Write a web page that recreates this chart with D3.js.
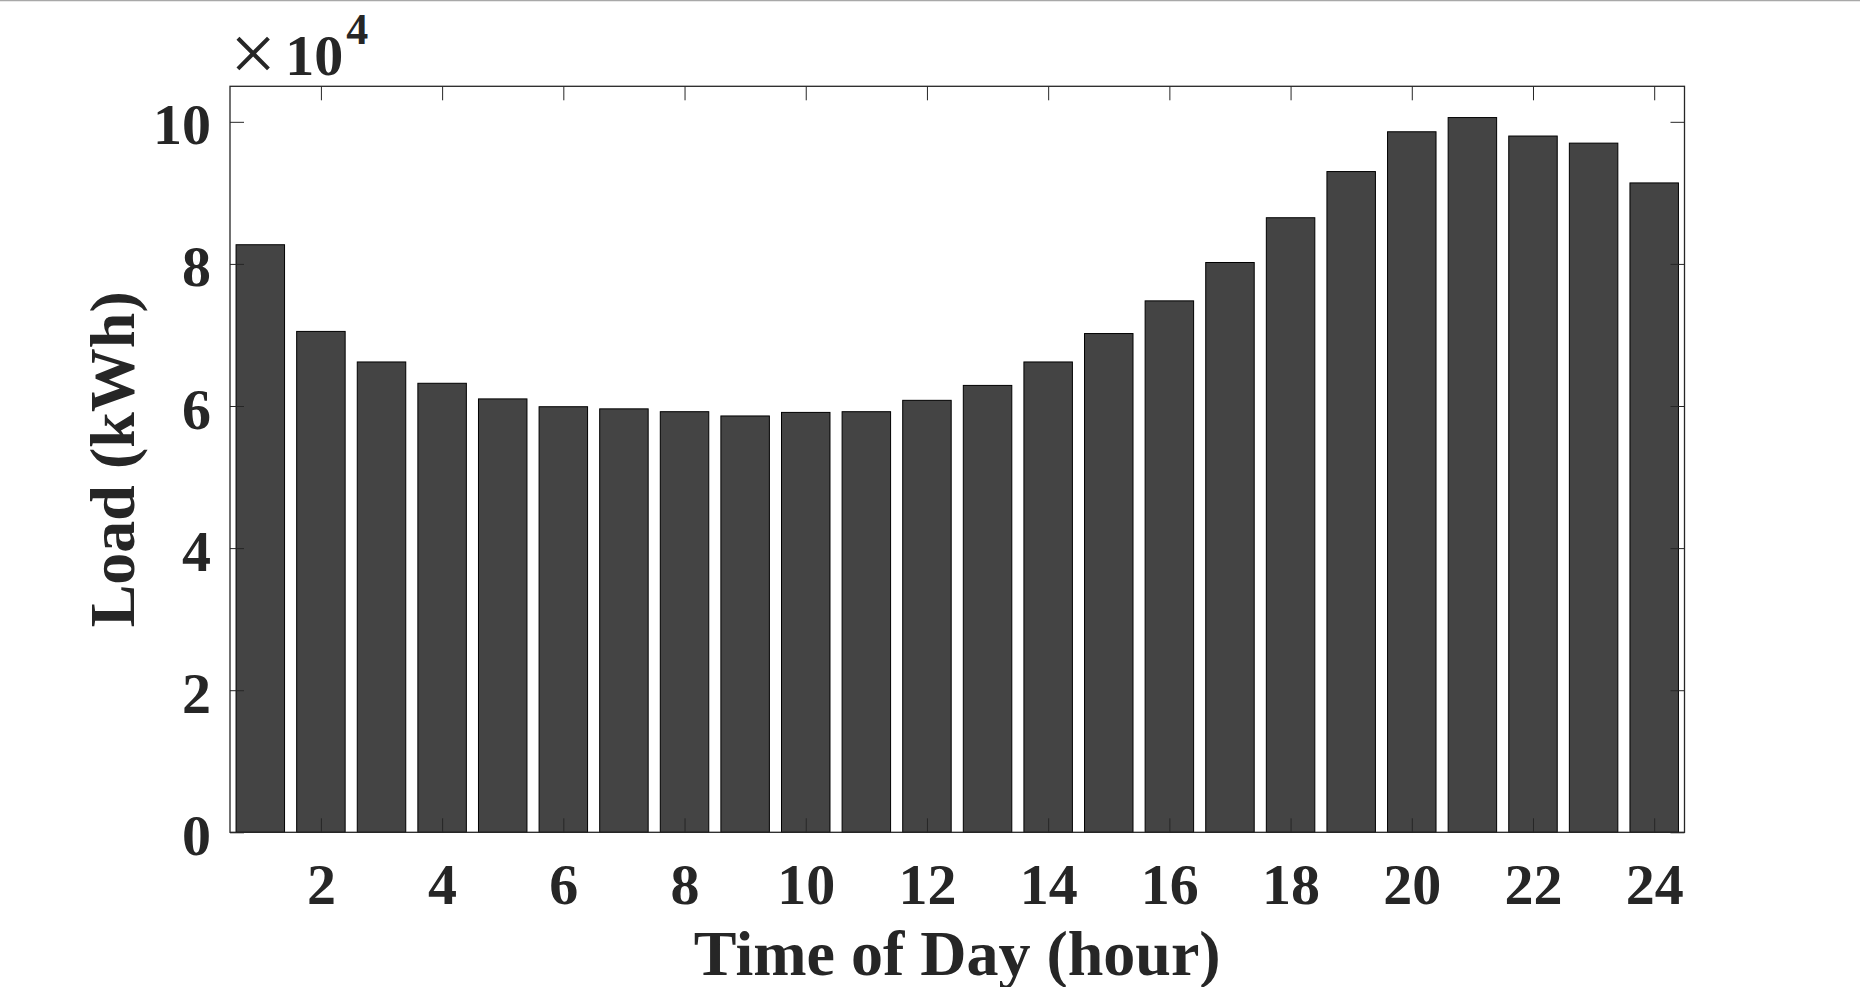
<!DOCTYPE html>
<html>
<head>
<meta charset="utf-8">
<script src="https://cdn.jsdelivr.net/npm/d3@7"></script>
<style>
  html, body { margin: 0; padding: 0; background: #ffffff; }
  svg { display: block; }
  text { font-family: "Liberation Serif", "Times New Roman", serif; fill: #262626; }
</style>
</head>
<body>
<script>
// ---- data ----
const hours = [1,2,3,4,5,6,7,8,9,10,11,12,13,14,15,16,17,18,19,20,21,22,23,24];
const load = [82700, 70500, 66200, 63200, 61000, 59900, 59600, 59200, 58600, 59100, 59200, 60800,
              62900, 66200, 70200, 74800, 80200, 86500, 93000, 98600, 100600, 98000, 97000, 91400];
const xTickValues = [2,4,6,8,10,12,14,16,18,20,22,24];
const yTickValues = [0, 20000, 40000, 60000, 80000, 100000];
const yTickLabels = ["0","2","4","6","8","10"];
const xLabel = "Time of Day (hour)";
const yLabel = "Load (kWh)";

// ---- layout ----
const W = 1860, H = 987;
const pLeft = 230, pRight = 1684.5, pTop = 86.3, pBottom = 832.3;
const ink = "#262626";

const svg = d3.select("body").append("svg").attr("width", W).attr("height", H);

// thin grey line at very top of the picture
svg.append("line").attr("x1", 0).attr("x2", W).attr("y1", 0.5).attr("y2", 0.5)
  .attr("stroke", "#a8a8a8").attr("stroke-width", 1.5);

const x = d3.scaleLinear().domain([0.5, 24.5]).range([pLeft, pRight]);
const y = d3.scaleLinear().domain([0, 105000]).range([pBottom, pTop]);
const barW = (x(1) - x(0)) * 0.8;

// bars
svg.append("g").selectAll("rect").data(hours).join("rect")
  .attr("x", (d) => x(d) - barW / 2)
  .attr("width", barW)
  .attr("y", (d, i) => y(load[i]))
  .attr("height", (d, i) => y(0) - y(load[i]))
  .attr("fill", "#444444")
  .attr("stroke", "#000000")
  .attr("stroke-width", 1);

const tickLen = 14;
function styleAxis(g) {
  g.select(".domain").remove();
  g.selectAll(".tick line").attr("stroke", ink).attr("stroke-width", 1);
}

// bottom axis
const gx = svg.append("g").attr("transform", `translate(0,${pBottom})`)
  .call(d3.axisBottom(x).tickValues(xTickValues).tickSize(-tickLen).tickFormat(d3.format("d")));
styleAxis(gx);
gx.selectAll(".tick text").attr("y", 72).attr("dy", null)
  .attr("font-size", 58).attr("font-weight", "bold").attr("fill", ink)
  .style("font-family", "'Liberation Serif', serif");

// top axis (ticks only)
const gxt = svg.append("g").attr("transform", `translate(0,${pTop})`)
  .call(d3.axisTop(x).tickValues(xTickValues).tickSize(-tickLen).tickFormat(""));
styleAxis(gxt);

// left axis
const gy = svg.append("g").attr("transform", `translate(${pLeft},0)`)
  .call(d3.axisLeft(y).tickValues(yTickValues).tickSize(-tickLen)
    .tickFormat((d, i) => yTickLabels[i]));
styleAxis(gy);
gy.selectAll(".tick text").attr("x", -19).attr("dy", null).attr("y", 22)
  .attr("font-size", 58).attr("font-weight", "bold").attr("fill", ink)
  .style("font-family", "'Liberation Serif', serif");

// right axis (ticks only)
const gyr = svg.append("g").attr("transform", `translate(${pRight},0)`)
  .call(d3.axisRight(y).tickValues(yTickValues).tickSize(-tickLen).tickFormat(""));
styleAxis(gyr);

// frame
svg.append("rect").attr("x", pLeft).attr("y", pTop)
  .attr("width", pRight - pLeft).attr("height", pBottom - pTop)
  .attr("fill", "none").attr("stroke", ink).attr("stroke-width", 1.3);

// exponent label  ×10^4
const expo = svg.append("text").attr("x", 230).attr("y", 75).attr("fill", ink);
expo.append("tspan").attr("font-size", 82).attr("font-weight", "normal").attr("dy", 6).text("×");
expo.append("tspan").attr("font-size", 58).attr("font-weight", "bold").attr("dx", 9).attr("dy", -6).text("10");
expo.append("tspan").attr("font-size", 44).attr("font-weight", "bold").attr("dy", -31).attr("dx", 3).text("4");

// axis labels
svg.append("text").attr("x", (pLeft + pRight) / 2).attr("y", 975)
  .attr("text-anchor", "middle").attr("font-size", 64).attr("font-weight", "bold")
  .text(xLabel);

svg.append("text")
  .attr("transform", `translate(134,${(pTop + pBottom) / 2}) rotate(-90)`)
  .attr("text-anchor", "middle").attr("font-size", 64).attr("font-weight", "bold")
  .text(yLabel);
</script>
</body>
</html>
